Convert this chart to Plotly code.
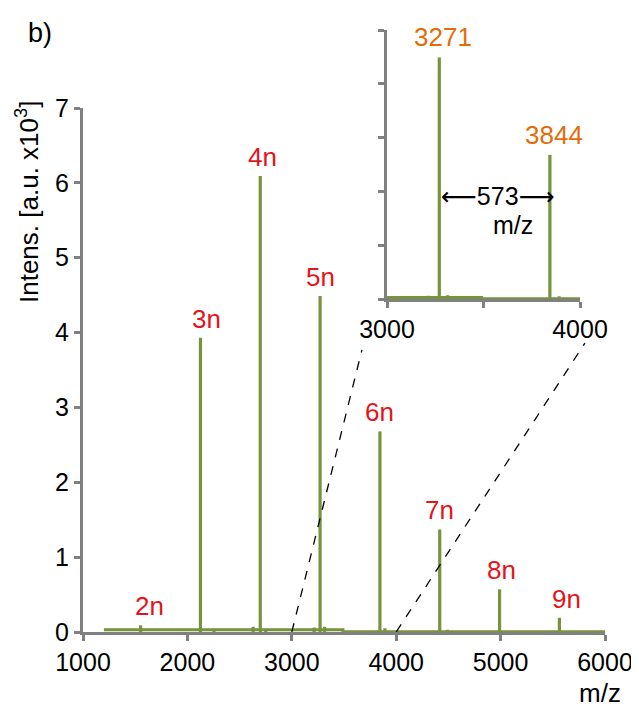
import plotly.graph_objects as go

# ---- data ----
peak_labels = ["2n", "3n", "4n", "5n", "6n", "7n", "8n", "9n"]
peak_mz = [1552, 2125, 2698, 3271, 3844, 4417, 4990, 5563]
peak_int = [0.09, 3.93, 6.09, 4.49, 2.68, 1.37, 0.57, 0.19]

minor_mz = [2255, 2630, 2750, 3214, 3314, 3892, 4490]
minor_int = [0.04, 0.07, 0.04, 0.06, 0.07, 0.05, 0.03]

baseline_mz = [1200, 3490, 3490, 6000]
baseline_int = [0.03, 0.03, 0.005, 0.005]

x_ticks = [1000, 2000, 3000, 4000, 5000, 6000]
inset_peaks = [3271, 3844]
inset_ticks = [3000, 4000]
inset_minor_ticks = [3500]
zoom_range = [3000, 4000]
connector_end_x = [3672, 5808]
connector_end_y = [3.77, 3.86]

GREEN = "#77933C"
GREY = "#808080"
RED = "#E3141B"
ORANGE = "#E46C0A"
FONT = "Liberation Sans, Arial, sans-serif"

# page body has an 8px margin; size the figure to fill the rest of the window
OFF = 8
W, H = 639 - OFF, 710 - OFF


def px(x):
    return (x - OFF) / W


def py(y):
    return 1 - (y - OFF) / H


# stick spectrum
stick_x, stick_y = [], []
for m, h in zip(peak_mz + minor_mz, peak_int + minor_int):
    stick_x += [m, m, None]
    stick_y += [0, h, None]

fig = go.Figure()
for xa, ya in (("x", "y"), ("x2", "y2")):
    fig.add_trace(go.Scatter(x=baseline_mz, y=baseline_int, mode="lines",
                             line=dict(color=GREEN, width=3), xaxis=xa, yaxis=ya,
                             hoverinfo="skip", showlegend=False))
    fig.add_trace(go.Scatter(x=stick_x, y=stick_y, mode="lines",
                             line=dict(color=GREEN, width=3.2), xaxis=xa, yaxis=ya,
                             hoverinfo="skip", showlegend=False))

axis_style = dict(showline=True, linecolor=GREY, linewidth=3, ticks="outside",
                  ticklen=6, tickwidth=3, tickcolor=GREY, showgrid=False,
                  zeroline=False, automargin=False,
                  tickfont=dict(size=25, color="black", family=FONT))

fig.update_layout(
    template="none",
    width=W, height=H, margin=dict(l=0, r=0, t=0, b=0, pad=0),
    paper_bgcolor="white", plot_bgcolor="rgba(0,0,0,0)",
    font=dict(family=FONT, color="black"),
    xaxis=dict(domain=[px(83), px(605)], range=[1000, 6000], tickvals=x_ticks,
               anchor="y", **axis_style),
    yaxis=dict(domain=[py(632), py(108)], range=[0, 7], dtick=1, anchor="x",
               **axis_style),
    xaxis2=dict(domain=[px(387), px(580)], range=zoom_range, tickvals=inset_ticks,
                minor=dict(tickvals=inset_minor_ticks, ticks="outside", ticklen=6,
                           tickwidth=3, tickcolor=GREY, showgrid=False),
                anchor="y2", **axis_style),
    yaxis2=dict(domain=[py(299), py(30)], range=[0, 5], dtick=1, anchor="x2",
                showticklabels=False, **axis_style),
)

# connectors
for xs, xe, ye in zip(zoom_range, connector_end_x, connector_end_y):
    fig.add_shape(type="line", xref="x", yref="y", x0=xs, y0=0, x1=xe, y1=ye,
                  line=dict(color="black", width=1.3, dash="dash"), layer="above")

# peak labels
label_xshift = [9, 6, 2, 0, 0, 0, 2, 7]
for lab, m, h, dx in zip(peak_labels, peak_mz, peak_int, label_xshift):
    fig.add_annotation(x=m, y=h, xref="x", yref="y", text=lab, showarrow=False,
                       xanchor="center", yanchor="middle",
                       xshift=dx, yshift=19, font=dict(size=26, color=RED))

for m in inset_peaks:
    h = peak_int[peak_mz.index(m)]
    fig.add_annotation(x=m, y=h, xref="x2", yref="y2", text=str(m), showarrow=False,
                       xanchor="center", yanchor="middle",
                       xshift=4, yshift=20, font=dict(size=26, color=ORANGE))

fig.add_annotation(x=3570, y=1.91, xref="x2", yref="y2",
                   text="<span style='font-family:DejaVu Sans'>\u27f5</span>573"
                        "<span style='font-family:DejaVu Sans'>\u27f6</span>",
                   xanchor="center", yanchor="middle",
                   showarrow=False, font=dict(size=25))
fig.add_annotation(x=3655, y=1.37, xref="x2", yref="y2", text="m/z",
                   xanchor="center", yanchor="middle",
                   showarrow=False, font=dict(size=25))

fig.add_annotation(x=px(40), y=py(33), xref="paper", yref="paper", text="b)",
                   xanchor="center", yanchor="middle",
                   showarrow=False, font=dict(size=27))
fig.add_annotation(x=px(27), y=py(202), xref="paper", yref="paper",
                   text="Intens. [a.u. x10<sup>3</sup>]", textangle=-90,
                   xanchor="center", yanchor="middle",
                   showarrow=False, font=dict(size=26))
fig.add_annotation(x=px(600), y=py(693), xref="paper", yref="paper", text="m/z",
                   xanchor="center", yanchor="middle",
                   showarrow=False, font=dict(size=26))

fig.write_html("out.html")
